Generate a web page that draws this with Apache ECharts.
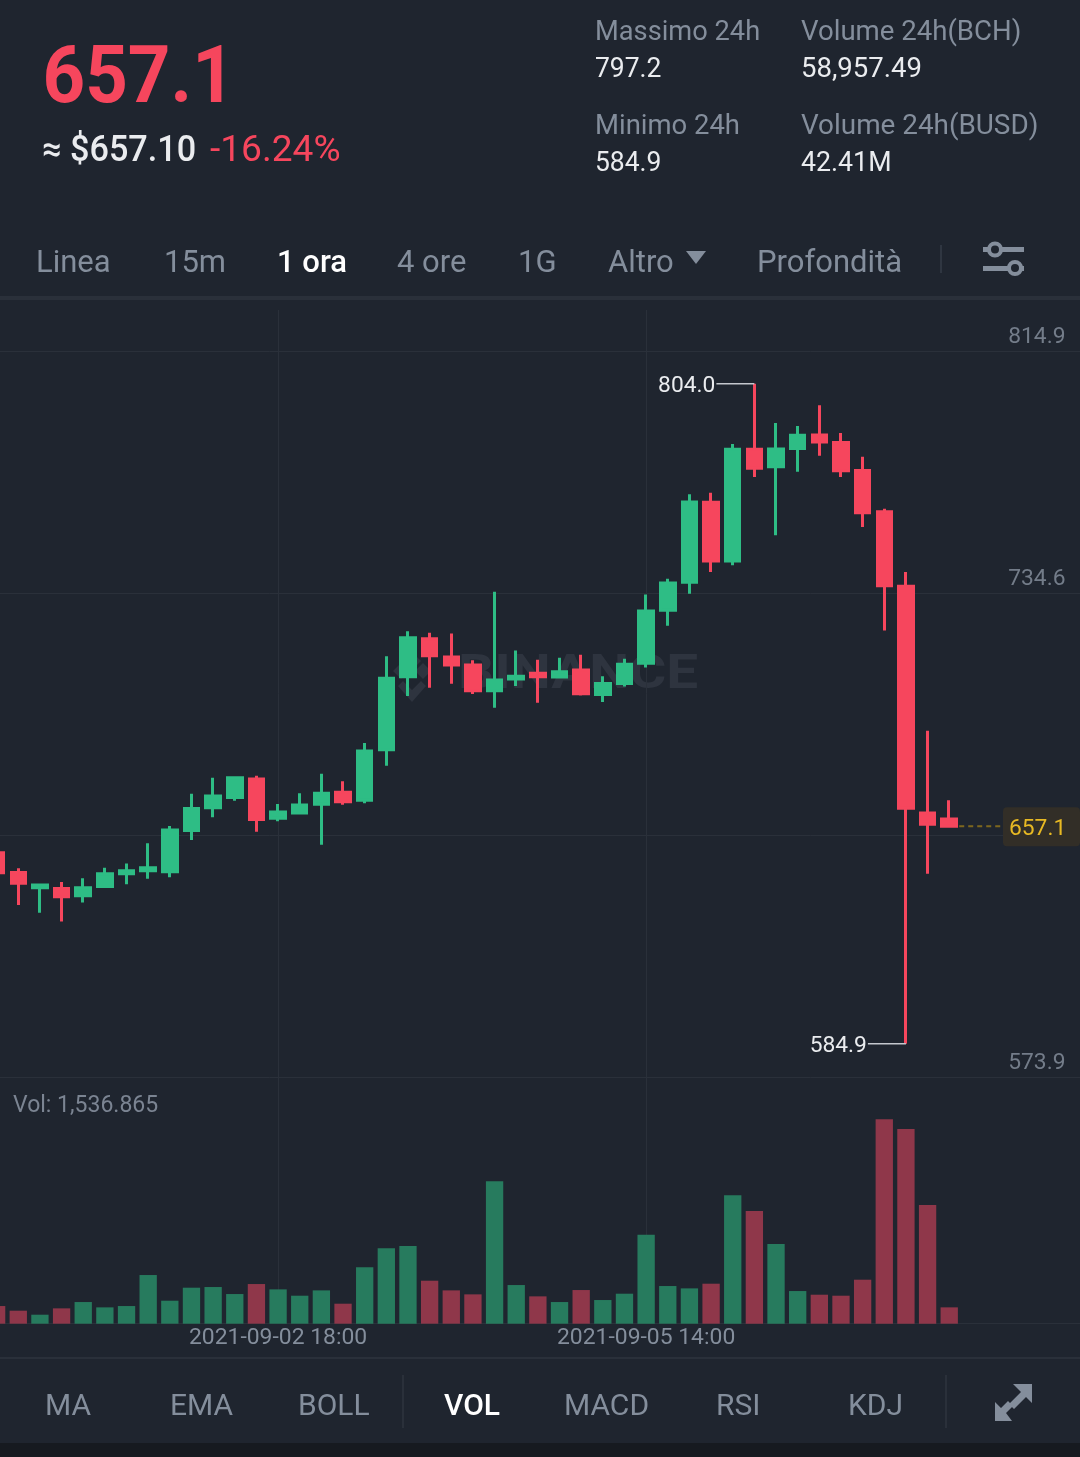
<!DOCTYPE html>
<html><head><meta charset="utf-8">
<style>html,body{margin:0;padding:0;background:#1f252f}#c{width:1080px;height:1457px}</style>
<script src="https://cdn.jsdelivr.net/npm/echarts@6/dist/echarts.min.js"></script>
</head><body><div id="c"></div>
<script>
const categories = ['2021-08-31 14:00','2021-08-31 18:00','2021-08-31 22:00','2021-09-01 02:00','2021-09-01 06:00','2021-09-01 10:00','2021-09-01 14:00','2021-09-01 18:00','2021-09-01 22:00','2021-09-02 02:00','2021-09-02 06:00','2021-09-02 10:00','2021-09-02 14:00','2021-09-02 18:00','2021-09-02 22:00','2021-09-03 02:00','2021-09-03 06:00','2021-09-03 10:00','2021-09-03 14:00','2021-09-03 18:00','2021-09-03 22:00','2021-09-04 02:00','2021-09-04 06:00','2021-09-04 10:00','2021-09-04 14:00','2021-09-04 18:00','2021-09-04 22:00','2021-09-05 02:00','2021-09-05 06:00','2021-09-05 10:00','2021-09-05 14:00','2021-09-05 18:00','2021-09-05 22:00','2021-09-06 02:00','2021-09-06 06:00','2021-09-06 10:00','2021-09-06 14:00','2021-09-06 18:00','2021-09-06 22:00','2021-09-07 02:00','2021-09-07 06:00','2021-09-07 10:00','2021-09-07 14:00','2021-09-07 18:00','2021-09-07 22:00','2021-09-08 02:00','2021-09-08 06:00','2021-09-08 10:00','2021-09-08 14:00','2021-09-08 18:00','2021-09-08 22:00'];
const opens = [648.3,641.8,636.7,636.5,634.1,637.1,641.4,642.4,642.0,655.7,663.3,666.7,672.8,659.8,661.5,664.4,668.4,665.8,682.5,706.8,719.4,713.3,710.7,702.1,706.0,707.9,706.7,709.0,700.9,704.5,711.2,728.8,738.1,764.7,745.2,782.3,776.5,782.5,787.0,784.5,775.2,761.5,736.8,661.5,659.5];
const closes = [641.7,638.2,637.6,633.7,636.7,641.4,642.4,643.4,655.9,663.0,667.2,673.2,659.4,661.9,664.2,668.1,665.3,682.1,706.3,719.7,713.7,710.7,702.1,705.7,706.9,706.8,708.4,701.1,704.5,710.9,728.6,737.9,764.8,745.2,782.3,776.0,782.4,786.9,784.7,775.1,761.2,737.0,663.1,657.8,657.1];
const lows = [640.0,631.0,628.4,625.5,631.8,637.1,637.9,639.7,640.2,652.6,660.1,665.6,655.3,658.8,661.5,651.0,664.3,664.8,677.2,700.4,703.1,704.4,701.0,696.5,703.7,698.1,706.7,700.5,698.4,703.5,709.8,723.7,734.3,741.5,743.8,773.1,753.7,774.8,780.1,773.1,756.5,722.1,584.9,641.4,657.1];
const highs = [650.0,643.2,637.9,638.6,639.9,643.4,644.8,651.5,657.2,667.9,673.2,673.5,673.9,664.5,668.1,674.6,672.1,684.8,713.6,721.9,721.4,721.1,712.2,735.0,715.5,712.4,713.1,714.1,706.9,712.7,734.1,739.3,767.3,767.8,784.0,804.0,791.0,790.0,796.9,787.7,779.8,762.5,741.5,688.8,665.8];
const volumes = [1662,1223,847,1443,2038,1537,1662,4579,2164,3387,3450,2791,3732,3230,2634,3136,1882,5300,7087,7307,4045,3136,2760,13391,3638,2572,2038,3167,2227,2822,8373,3544,3324,3763,12074,10600,7495,3073,2728,2634,4140,19224,18314,11164,1536.865];
const priceTicks = [573.9,654.2,734.6,814.9];
const priceTickLabels = ['573.9','','734.6','814.9'];
const dateTickIndexes = [13,30];
const highLowNotes = [[35,804.0,'804.0'],[42,584.9,'584.9']];
const lastPrice = [[44,657.1,'657.1']];
const statLabels = ['Massimo 24h','Volume 24h(BCH)','Minimo 24h','Volume 24h(BUSD)'];
const statValues = ['797.2','58,957.49','584.9','42.41M'];
const periodTabs = ['Linea','15m','1 ora','4 ore','1G','Altro','Profondità'];
const indicatorTabs = ['MA','EMA','BOLL','VOL','MACD','RSI','KDJ'];

const BG='#1f252f', UP='#2ebd85', DOWN='#f6465d', UPV='#277b5e', DOWNV='#8f374a', GREY='#848e9c', WHITE='#eaecef', GRID='#2a303a', MARK='#2e343f';
const F='Roboto, sans-serif';
function txt(text,x,y,size,fill,opt){opt=opt||{};return {type:'text',x:x,y:y,scaleX:opt.sx||1,z:opt.z==null?5:opt.z,silent:true,
  style:{text:text,x:0,y:0,fill:fill,font:(opt.w||'normal')+' '+size+'px '+(opt.f||F),textAlign:opt.a||'left',textVerticalAlign:'middle'}};}
function rect(x,y,w,h,fill,z){return {type:'rect',silent:true,z:z==null?1:z,shape:{x:x,y:y,width:w,height:h},style:{fill:fill}};}
function poly(pts,fill,z){return {type:'polygon',silent:true,z:z==null?5:z,shape:{points:pts},style:{fill:fill}};}

const g=[];
g.push(rect(0,1443,1080,14,'#161a20'));
g.push(rect(0,296,1080,4,'#2a303a'));
g.push(rect(0,1357,1080,2,'#2a303a'));
g.push(txt('657.1',42.5,82,80,DOWN,{w:'bold',sx:0.93}));
g.push(txt('≈ $657.10',42,152,36,WHITE,{sx:0.95,w:'500'}));
g.push(txt('-16.24%',210,152,36,DOWN,{sx:1.03}));
[[595,33,.973],[801,33,.985],[595,127,.98],[801,127,.995]].forEach((p,i)=>g.push(txt(statLabels[i],p[0],p[1],28,GREY,{sx:p[2]})));
[[595,70,.98],[801,70,1.02],[595,164,.98],[801,164,.99]].forEach((p,i)=>g.push(txt(statValues[i],p[0],p[1],27,WHITE,{sx:p[2]})));
[36,164,277,397,518,608,757].forEach((x,i)=>g.push(txt(periodTabs[i],x,264,31,i==2?'#ffffff':GREY,{w:i==2?'500':'normal',sx:1})));
g.push(poly([[686,251],[706,251],[696,264]],GREY));
g.push(rect(940,245,2,28,'#2f3641'));
g.push(rect(983,247,41,5,GREY,5)); g.push(rect(983,266,41,5,GREY,5));
g.push({type:'circle',z:6,silent:true,shape:{cx:995,cy:249.5,r:6},style:{fill:BG,stroke:GREY,lineWidth:4}});
g.push({type:'circle',z:6,silent:true,shape:{cx:1015,cy:268,r:6},style:{fill:BG,stroke:GREY,lineWidth:4}});
[45,170,298,444,564,716,848].forEach((x,i)=>g.push(txt(indicatorTabs[i],x,1407,30,i==3?'#ffffff':GREY,{w:i==3?'500':'normal',sx:1})));
g.push(rect(402,1375,2,53,'#2a303a')); g.push(rect(945,1375,2,53,'#2a303a'));
g.push(poly([[1013,1384],[1032,1384],[1032,1403],[1026,1397],[1014,1409],[1009,1404],[1021,1392]],GREY));
g.push(poly([[995,1421],[995,1402],[1001,1408],[1008,1401],[1013,1406],[1006,1413],[1012,1421]],GREY));
g.push(txt('Vol: 1,536.865',13,1106,23,'#7b8492',{sx:1}));
g.push(txt('BINANCE',458,676,48,MARK,{w:'bold',sx:1.18,z:0}));
g.push(poly([[412,652],[421,661],[412,670],[403,661]],MARK,0));
g.push(poly([[393,671],[401,663],[409,671],[401,679]],MARK,0));
g.push(poly([[431,671],[423,663],[415,671],[423,679]],MARK,0));
g.push(poly([[412,690],[421,681],[426,686],[412,702],[398,686],[403,681]],MARK,0));

const option={
  animation:false,backgroundColor:BG,graphic:{elements:g},
  grid:[{left:-14.2,width:1104.15,top:310,height:767,outerBoundsMode:'none'},{left:-14.2,width:1104.15,top:1077,height:246.7,outerBoundsMode:'none'}],
  xAxis:[
    {type:'category',gridIndex:0,data:categories,axisLine:{show:false},axisTick:{show:false},axisLabel:{show:false},
     splitLine:{show:true,alignWithLabel:true,interval:i=>dateTickIndexes.includes(i),lineStyle:{color:GRID,width:1}}},
    {type:'category',gridIndex:1,data:categories,axisLine:{show:true,lineStyle:{color:GRID,width:1}},axisTick:{show:false},
     axisLabel:{show:true,interval:i=>dateTickIndexes.includes(i),margin:3,fontFamily:F,fontSize:22.9,color:GREY,verticalAlign:'top',hideOverlap:false},
     splitLine:{show:true,alignWithLabel:true,interval:i=>dateTickIndexes.includes(i),lineStyle:{color:GRID,width:1}}}
  ],
  yAxis:[
    {type:'value',gridIndex:0,position:'right',min:573.9,max:828.5,scale:true,
     axisLine:{show:false},axisTick:{show:false,customValues:priceTicks},
     axisLabel:{inside:true,customValues:priceTicks,margin:24.5,fontFamily:F,fontSize:22.8,color:'#737c89',verticalAlign:'bottom',padding:[0,0,2,0],
       formatter:v=>priceTickLabels[priceTicks.indexOf(v)]||''},
     splitLine:{show:true,lineStyle:{color:GRID,width:1}}},
    {type:'value',gridIndex:1,min:0,max:23210,axisLine:{show:false},axisTick:{show:false},axisLabel:{show:false},splitLine:{show:false}}
  ],
  series:[
    {type:'candlestick',xAxisIndex:0,yAxisIndex:0,barWidth:15,z:3,
     data:opens.map((o,i)=>[o,closes[i],lows[i],highs[i]]),
     itemStyle:{color:UP,color0:DOWN,borderColor:UP,borderColor0:DOWN,borderWidth:3}},
    {type:'bar',xAxisIndex:1,yAxisIndex:1,barWidth:'80%',z:3,
     data:volumes,itemStyle:{color:p=>closes[p.dataIndex]>=opens[p.dataIndex]?UPV:DOWNV}},
    {type:'custom',xAxisIndex:0,yAxisIndex:0,clip:false,z:6,silent:true,data:highLowNotes,encode:{x:0,y:1},
     renderItem:(params,api)=>{
       const p=api.coord([api.value(0),api.value(1)]);
       return {type:'group',children:[
         {type:'line',shape:{x1:p[0],y1:p[1],x2:p[0]-38,y2:p[1]},style:{stroke:'#c4c8ce',lineWidth:1.5}},
         {type:'text',x:p[0]-39,y:p[1]+2,style:{text:highLowNotes[params.dataIndex][2],fill:WHITE,font:'22.8px '+F,textAlign:'right',textVerticalAlign:'middle'}}
       ]};
     }},
    {type:'custom',xAxisIndex:0,yAxisIndex:0,clip:false,z:6,silent:true,data:lastPrice,encode:{x:0,y:1},
     renderItem:(params,api)=>{
       const p=api.coord([api.value(0),api.value(1)]);
       return {type:'group',children:[
         {type:'line',shape:{x1:p[0]+10,y1:p[1],x2:1001,y2:p[1]},style:{stroke:'rgba(240,185,11,0.45)',lineWidth:2,lineDash:[5,4]}},
         {type:'rect',shape:{x:1003,y:p[1]-19,width:77,height:39,r:4},style:{fill:'#322e27'}},
         {type:'text',x:1009,y:p[1]+3,style:{text:lastPrice[0][2],fill:'#e8b923',font:'22.8px '+F,textAlign:'left',textVerticalAlign:'middle'}}
       ]};
     }}
  ]
};
const chart=echarts.init(document.getElementById('c'),null,{renderer:'canvas',width:1080,height:1457});
chart.setOption(option);
</script></body></html>
